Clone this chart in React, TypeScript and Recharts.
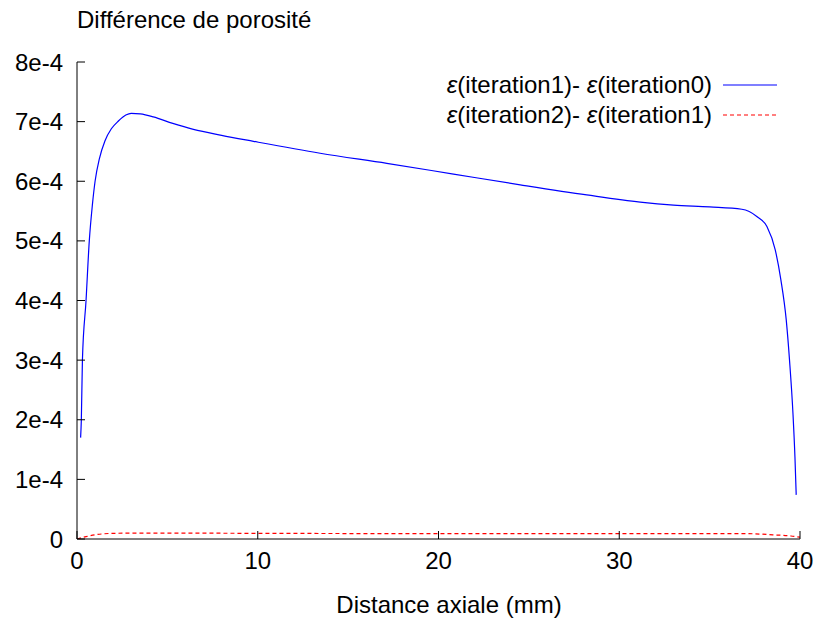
import React from 'react';
import { LineChart, Line, XAxis, YAxis } from 'recharts';

// distance (mm) and porosity difference
const blueX = [0.2, 0.24, 0.3, 0.5, 0.68, 0.85, 1.0, 1.24, 1.55, 1.9, 2.29, 2.7, 3.0, 3.5, 4.22, 5.3, 6.44, 8, 9.76, 13.45, 17.14, 20.83, 24.52, 28.2, 31.16, 33, 35, 36.78, 37.61, 38.17, 38.63, 38.94, 39.24, 39.42, 39.61, 39.72, 39.79];
const blueY = [1.7e-4, 2.0e-4, 3.0e-4, 4.0e-4, 5.0e-4, 5.6e-4, 6.0e-4, 6.38e-4, 6.68e-4, 6.88e-4, 7.01e-4, 7.11e-4, 7.14e-4, 7.13e-4, 7.08e-4, 6.97e-4, 6.87e-4, 6.77e-4, 6.67e-4, 6.47e-4, 6.3e-4, 6.12e-4, 5.94e-4, 5.77e-4, 5.65e-4, 5.6e-4, 5.57e-4, 5.53e-4, 5.41e-4, 5.24e-4, 4.85e-4, 4.35e-4, 3.67e-4, 3.0e-4, 2.11e-4, 1.38e-4, 0.74e-4];

const redX = [0, 0.5, 1, 2, 4, 10, 20, 30, 37, 38.5, 39.5, 40];
const redY = [0, 0.04e-4, 0.07e-4, 0.095e-4, 0.1e-4, 0.095e-4, 0.09e-4, 0.09e-4, 0.09e-4, 0.07e-4, 0.05e-4, 0.03e-4];

const xTicks = [0, 10, 20, 30, 40];
const yTicks = [0, 1e-4, 2e-4, 3e-4, 4e-4, 5e-4, 6e-4, 7e-4, 8e-4];

const seriesNames = [
  ['iteration1', 'iteration0'],
  ['iteration2', 'iteration1'],
];

const blueData = blueX.map((x, i) => ({ x, v: blueY[i] }));
const redData = redX.map((x, i) => ({ x, v: redY[i] }));

const FONT = '"Liberation Sans", Arial, Helvetica, sans-serif';
const FS = 24;

const fmtY = (v: number) => (v === 0 ? '0' : `${Math.round(v * 1e4)}e-4`);
const blank = () => '';

const styles = [
  { color: '#0000ff', dash: undefined as string | undefined },
  { color: '#ff0000', dash: '4 3' },
];

export default function App() {
  return (
    <div style={{ position: 'absolute', left: 0, top: 0, width: 817, height: 621, background: '#fff', fontFamily: FONT }}>
      <LineChart width={817} height={621} margin={{ top: 62, right: 17, bottom: 0, left: 0 }}>
        <XAxis
          xAxisId="b"
          dataKey="x"
          type="number"
          domain={[0, 40]}
          ticks={xTicks}
          allowDataOverflow
          stroke="#000"
          tickSize={-8}
          tickMargin={21}
          tick={{ fill: '#000', fontSize: FS, fontFamily: FONT }}
          height={82}
        />
        <XAxis
          xAxisId="t"
          orientation="top"
          dataKey="x"
          type="number"
          domain={[0, 40]}
          ticks={xTicks}
          stroke="#000"
          tickSize={-8}
          tickFormatter={blank}
          height={0}
        />
        <YAxis
          yAxisId="l"
          type="number"
          domain={[0, 8e-4]}
          ticks={yTicks}
          allowDataOverflow
          stroke="#000"
          tickSize={-8}
          tickMargin={22}
          tickFormatter={fmtY}
          tick={{ fill: '#000', fontSize: FS, fontFamily: FONT }}
          width={77}
        />
        <YAxis
          yAxisId="r"
          orientation="right"
          type="number"
          domain={[0, 8e-4]}
          ticks={yTicks}
          stroke="#000"
          tickSize={-8}
          tickFormatter={blank}
          width={0}
        />
        {/* invisible series so the mirrored top/right axes get drawn */}
        <Line xAxisId="t" yAxisId="r" data={redData} dataKey="v" stroke="none" dot={false} legendType="none" isAnimationActive={false} />
        <Line
          xAxisId="b"
          yAxisId="l"
          data={blueData}
          dataKey="v"
          type="monotone"
          stroke="#0000ff"
          strokeWidth={1.2}
          dot={false}
          isAnimationActive={false}
        />
        <Line
          xAxisId="b"
          yAxisId="l"
          data={redData}
          dataKey="v"
          type="monotone"
          stroke="#ff0000"
          strokeWidth={1.2}
          strokeDasharray="4 3"
          dot={false}
          isAnimationActive={false}
        />
      </LineChart>

      {/* y title */}
      <div style={{ position: 'absolute', left: 77, top: 8, fontSize: FS, lineHeight: '24px', whiteSpace: 'nowrap' }}>
        Différence de porosité
      </div>

      {/* x title */}
      <div style={{ position: 'absolute', left: 249, width: 400, top: 593, textAlign: 'center', fontSize: FS, lineHeight: '24px' }}>
        Distance axiale (mm)
      </div>

      {/* legend */}
      {seriesNames.map((n, i) => (
        <div key={i} style={{ position: 'absolute', top: 73 + i * 30, left: 300, width: 477, height: 24, display: 'flex', alignItems: 'center', justifyContent: 'flex-end', fontSize: FS, lineHeight: '24px' }}>
          <span style={{ whiteSpace: 'nowrap' }}>
            <i>ε</i>({n[0]})- <i>ε</i>({n[1]})
          </span>
          <svg width={65} height={10}>
            <line x1={11} x2={65} y1={5} y2={5} stroke={styles[i].color} strokeWidth={1.2} strokeDasharray={styles[i].dash} />
          </svg>
        </div>
      ))}
    </div>
  );
}
